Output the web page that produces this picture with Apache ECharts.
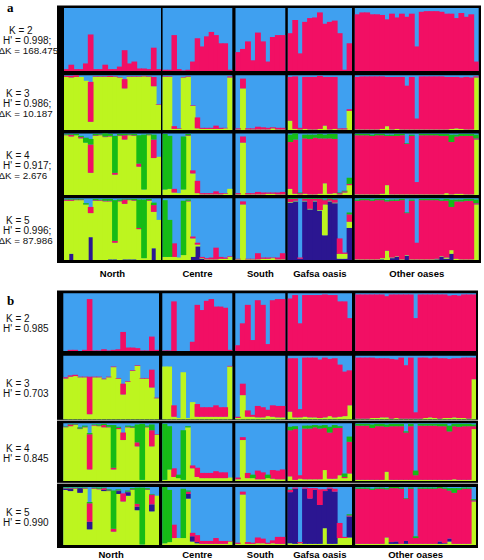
<!DOCTYPE html>
<html><head><meta charset="utf-8">
<script src="https://cdn.jsdelivr.net/npm/echarts@6/dist/echarts.min.js"></script>
<style>html,body{margin:0;padding:0;background:#fff}#c{width:484px;height:560px}</style>
</head><body><div id="c"></div>
<script>
// ---- categories ----
const groups = ['North', 'Centre', 'South', 'Gafsa oasis', 'Other oases'];
const groupSizes = [20, 15, 10, 13, 25];
const panelLetters = ['a', 'b'];
const kLabelsA = [
  ['K = 2', "H' = 0.998;", 'ΔK = 168.475'],
  ['K = 3', "H' = 0.986;", 'ΔK = 10.187'],
  ['K = 4', "H' = 0.917;", 'ΔK = 2.676'],
  ['K = 5', "H' = 0.996;", 'ΔK = 87.986']
];
const kLabelsB = [
  ['K = 2', "H' = 0.985"],
  ['K = 3', "H' = 0.703"],
  ['K = 4', "H' = 0.845"],
  ['K = 5', "H' = 0.990"]
];

// ---- membership proportions (order: North | Centre | South | Gafsa | Other); blue cluster = remainder ----
// panel a
const a_k2_pink = [0.03,0.1,0.03,0.03,0.12,0.58,0.03,0.03,0.1,0.03,0.03,0.07,0.33,0.12,0.15,0.04,0.04,0.03,0.37,0.03,
  0.02,0.02,0.57,0.03,0.01,0.02,0.15,0.52,0.39,0.55,0.62,0.57,0.44,0.44,0.02,
  0.3,0.35,0.47,0.17,0.61,0.47,0.15,0.54,0.57,0.57,
  0.6,0.81,0.28,0.78,0.84,0.85,0.93,0.75,0.78,0.8,0.6,0.02,0.44,
  0.9,0.93,0.93,0.9,0.9,0.89,0.82,0.91,0.85,0.91,0.86,0.91,0.39,0.94,0.95,0.95,0.95,0.94,0.91,0.91,0.84,0.92,0.86,0.9,0.15];
const a_k3_yellow = [0.97,0.96,0.97,0.97,0.9,0.15,0.97,0.97,0.97,0.97,0.97,0.96,0.76,0.97,0.97,0.97,0.98,0.97,0.8,0.46,
  0.97,0.97,0.02,0.02,0.96,0.97,0.44,0.03,0.02,0.02,0.02,0.02,0.02,0.03,0.96,
  0.01,0.76,0.01,0.01,0.01,0.01,0.01,0.03,0.01,0.01,
  0.17,0.02,0.01,0.02,0.01,0.01,0.02,0.08,0.01,0.02,0.01,0.01,0.35,
  0.01,0.01,0.01,0.01,0.01,0.02,0.07,0.01,0.02,0.01,0.01,0.01,0.01,0.01,0.01,0.01,0.01,0.01,0.01,0.02,0.03,0.02,0.01,0.01,0.96];
const a_k3_pink = [0.02,0.03,0.03,0,0,0.73,0.01,0.01,0.01,0.02,0.01,0.01,0.17,0.01,0.01,0.01,0.01,0.01,0.17,0.01,
  0.01,0.01,0.05,0.01,0.01,0.01,0.01,0.2,0.02,0.02,0.02,0.06,0.02,0.01,0.02,
  0.02,0.18,0.02,0.02,0.05,0.04,0.03,0.02,0.03,0.03,
  0.8,0.96,0.03,0.95,0.96,0.96,0.97,0.89,0.96,0.95,0.02,0.02,0.03,
  0.96,0.97,0.97,0.97,0.97,0.96,0.9,0.96,0.95,0.96,0.8,0.96,0.2,0.97,0.97,0.97,0.97,0.97,0.96,0.95,0.94,0.94,0.96,0.95,0.02];
const a_k4_yellow = [0.97,0.95,0.97,0.92,0.85,0.36,0.96,0.97,0.94,0.95,0.33,0.96,0.9,0.97,0.96,0.46,0.09,0.97,0.6,0.62,
  0.09,0.1,0.04,0.03,0.09,0.96,0.35,0.03,0.01,0.01,0.01,0.01,0.01,0.02,0.1,
  0.01,0.85,0.01,0.01,0.01,0.01,0.02,0.02,0.01,0.01,
  0.1,0.02,0.01,0.02,0.01,0.01,0.02,0.19,0.02,0.03,0.01,0.04,0.16,
  0.01,0.01,0.01,0.01,0.01,0.02,0.16,0.01,0.01,0.01,0.01,0.01,0.01,0.01,0.01,0.01,0.01,0.01,0.03,0.01,0.02,0.02,0.01,0.01,0.9];
const a_k4_pink = [0.01,0.03,0,0.02,0,0.46,0.01,0.01,0.01,0.01,0.03,0.01,0.07,0.01,0.01,0.05,0,0.01,0.3,0,
  0,0,0.06,0,0,0.01,0.05,0.2,0.02,0.02,0.02,0.05,0.02,0.01,0,
  0.02,0.1,0.02,0.02,0.04,0.03,0.02,0.02,0.03,0.04,
  0.76,0.88,0.02,0.9,0.9,0.92,0.9,0.73,0.9,0.88,0.02,0.02,0.02,
  0.96,0.96,0.96,0.95,0.96,0.95,0.8,0.95,0.95,0.96,0.82,0.95,0.2,0.96,0.96,0.96,0.96,0.95,0.93,0.85,0.93,0.94,0.95,0.95,0.02];
const a_k4_green = [0.01,0.01,0.02,0.02,0.08,0.09,0.02,0.01,0.05,0.03,0.6,0.02,0.02,0.01,0.02,0.46,0.89,0.01,0.08,0,
  0.9,0.86,0,0,0.86,0.02,0,0,0,0,0,0,0,0,0,
  0,0,0,0,0,0,0,0,0,0,
  0.12,0.1,0.01,0.06,0.07,0.05,0.07,0.06,0.07,0.08,0.01,0.01,0.1,
  0.02,0.02,0.02,0.02,0.02,0.02,0.02,0.02,0.03,0.02,0.01,0.02,0,0.02,0.02,0.02,0.02,0.03,0.03,0.12,0.03,0.03,0.03,0.03,0.06];
const a_k5_navy = [0,0.1,0,0,0,0.37,0,0,0,0.01,0.01,0,0.01,0.01,0.01,0,0,0,0.19,0,
  0,0,0,0,0,0,0.05,0.22,0.02,0,0,0,0,0,0,
  0,0,0,0,0,0,0,0,0,0,
  0.93,0.95,0.02,0.95,0.82,0.95,0.8,0.4,0.95,0.92,0.02,0.02,0.52,
  0,0,0,0,0,0.01,0,0.03,0.05,0,0.07,0,0,0,0,0,0.01,0.05,0.02,0.1,0,0,0,0,0];
const a_k5_yellow = [0.96,0.86,0.97,0.97,0.9,0.39,0.96,0.96,0.95,0.94,0.27,0.95,0.9,0.96,0.95,0.5,0.03,0.96,0.59,0.65,
  0.05,0.05,0.05,0.04,0.08,0.95,0.3,0.03,0.01,0.01,0.01,0.01,0.02,0.02,0.05,
  0.01,0.9,0.01,0.01,0.01,0.02,0.02,0.03,0.01,0.01,
  0.01,0.01,0,0.01,0.01,0.01,0.01,0.5,0.01,0.01,0.08,0.08,0.1,
  0.01,0.01,0.01,0.01,0.01,0.02,0.15,0.01,0.01,0.01,0.01,0.01,0.01,0.01,0.01,0.01,0.01,0.01,0.02,0.06,0.02,0.01,0.01,0.01,0.9];
const a_k5_pink = [0.02,0.02,0.01,0.01,0,0.1,0.01,0.01,0.01,0.01,0.03,0.01,0.07,0.01,0.01,0.02,0,0.01,0.11,0,
  0,0,0.22,0,0,0.01,0.03,0.03,0.02,0.02,0.03,0.19,0.03,0.02,0.01,
  0.01,0.05,0.01,0.01,0.1,0.02,0.02,0.01,0.03,0.1,
  0.05,0.03,0.02,0.03,0.16,0.03,0.18,0.07,0.03,0.05,0.25,0.02,0.12,
  0.95,0.96,0.96,0.95,0.96,0.94,0.8,0.92,0.9,0.96,0.68,0.95,0.27,0.96,0.96,0.96,0.95,0.9,0.92,0.7,0.93,0.94,0.95,0.95,0.02];
const a_k5_green = [0.01,0.01,0.01,0.01,0.02,0,0.02,0.01,0.03,0.03,0.66,0.02,0.01,0.01,0.02,0.46,0.95,0.02,0.04,0,
  0.92,0.6,0,0,0.88,0.02,0,0,0,0,0,0,0,0,0,
  0,0,0,0,0,0,0,0,0,0,
  0.01,0.01,0,0.01,0.01,0.01,0.01,0.01,0.01,0.01,0,0,0.03,
  0.02,0.02,0.02,0.02,0.02,0.02,0.02,0.02,0.02,0.02,0.01,0.02,0,0.02,0.02,0.02,0.02,0.02,0.03,0.12,0.03,0.03,0.03,0.03,0.06];
// panel b
const b_k2_pink = [0,0.02,0.02,0,0.02,0.9,0.01,0.01,0.03,0.01,0.02,0.03,0.33,0.06,0.06,0.05,0.01,0.01,0.25,0.02,
  0.01,0.01,0.86,0,0,0,0.16,0.8,0.71,0.87,0.9,0.77,0.77,0.75,0.02,
  0.1,0.48,0.8,0.19,0.88,0.8,0.12,0.88,0.9,0.9,
  0.91,0.97,0.48,0.97,0.97,0.97,0.97,0.98,0.97,0.97,0.86,0.86,0.57,
  0.98,0.98,0.98,0.98,0.98,0.98,0.95,0.98,0.98,0.98,0.98,0.98,0.57,0.98,0.98,0.98,0.98,0.98,0.98,0.96,0.97,0.96,0.98,0.98,0.98];
const b_k3_yellow = [0.64,0.67,0.68,0.66,0.66,0.08,0.66,0.66,0.63,0.66,0.82,0.64,0.39,0.59,0.76,0.84,0.64,0.64,0.5,0.33,
  0.83,0.83,0.04,0.02,0.74,0.02,0.27,0.04,0.04,0.04,0.04,0.04,0.04,0.04,0.83,
  0.02,0.38,0.04,0.04,0.03,0.03,0.05,0.04,0.03,0.03,
  0.12,0.03,0.03,0.04,0.03,0.03,0.02,0.03,0.05,0.03,0.04,0.05,0.22,
  0.01,0.01,0.01,0.02,0.02,0.03,0.03,0.01,0.02,0.01,0.01,0.01,0.01,0.01,0.02,0.03,0.02,0.01,0.02,0.02,0.03,0.02,0.02,0.01,0.63];
const b_k3_pink = [0.02,0.02,0.02,0.01,0.01,0.59,0.01,0.01,0.01,0.01,0.01,0.01,0.17,0.01,0.01,0.01,0.01,0.01,0.28,0.01,
  0,0,0.18,0,0,0,0,0.2,0.15,0.15,0.15,0.18,0.15,0.15,0.01,
  0.02,0.18,0.1,0.03,0.18,0.16,0.1,0.18,0.18,0.18,
  0.84,0.93,0.13,0.93,0.94,0.94,0.92,0.94,0.9,0.93,0.82,0.7,0.55,
  0.96,0.96,0.96,0.95,0.94,0.93,0.93,0.94,0.92,0.96,0.84,0.96,0.1,0.96,0.95,0.93,0.95,0.95,0.94,0.93,0.93,0.94,0.95,0.96,0.34];
const b_k4_yellow = [0.93,0.95,0.97,0.9,0.93,0.2,0.96,0.95,0.93,0.93,0.2,0.9,0.71,0.93,0.92,0.6,0.02,0.93,0.6,0.8,
  0.02,0.2,0.07,0.05,0.02,0.93,0.22,0.07,0.05,0.05,0.05,0.05,0.05,0.05,0.06,
  0.03,0.71,0.05,0.05,0.03,0.03,0.05,0.04,0.03,0.03,
  0.08,0.02,0.04,0.03,0.03,0.03,0.03,0.19,0.04,0.04,0.1,0.05,0.13,
  0.02,0.02,0.02,0.02,0.02,0.02,0.16,0.02,0.02,0.02,0.02,0.02,0.02,0.02,0.02,0.02,0.02,0.02,0.02,0.02,0.03,0.02,0.02,0.02,0.9];
const b_k4_pink = [0.01,0.03,0.01,0.01,0.01,0.61,0.01,0.01,0.04,0.01,0.03,0.02,0.13,0.01,0.01,0.07,0,0.01,0.28,0.01,
  0,0,0.15,0,0,0,0.05,0.16,0.09,0.09,0.09,0.12,0.1,0.1,0,
  0.03,0.05,0.09,0,0.15,0.12,0,0.15,0.15,0.17,
  0.8,0.88,0.06,0.88,0.88,0.9,0.88,0.73,0.8,0.88,0.82,0.02,0.55,
  0.94,0.94,0.94,0.9,0.93,0.93,0.78,0.93,0.93,0.93,0.82,0.93,0.08,0.94,0.94,0.94,0.94,0.93,0.93,0.84,0.92,0.92,0.93,0.93,0.05];
const b_k4_green = [0.01,0.01,0.01,0.02,0.02,0.02,0.01,0.02,0.02,0.03,0.74,0.02,0,0.02,0.02,0.31,0.97,0.02,0.1,0,
  0.97,0.75,0,0.06,0.86,0.02,0,0,0,0,0,0,0,0,0,
  0,0,0,0.06,0,0,0.06,0,0,0,
  0.06,0.05,0,0.05,0.05,0.04,0.05,0.05,0.1,0.05,0.03,0.06,0.09,
  0.03,0.03,0.03,0.06,0.04,0.04,0.04,0.04,0.04,0.04,0.02,0.04,0.08,0.03,0.03,0.03,0.03,0.04,0.04,0.1,0.04,0.05,0.04,0.04,0.03];
const b_k5_yellow = [0.95,0.93,0.97,0.9,0.97,0.27,0.97,0.96,0.93,0.93,0.23,0.88,0.75,0.85,0.95,0.6,0.01,0.95,0.58,0.85,
  0.03,0.05,0.12,0.12,0.12,0.8,0.06,0.03,0.02,0.02,0.02,0.02,0.02,0.02,0.06,
  0.02,0.87,0.02,0.02,0.03,0.03,0.02,0.03,0.02,0.02,
  0.03,0.02,0.03,0.02,0.02,0.02,0.02,0.29,0.02,0.02,0.12,0.12,0.13,
  0.02,0.02,0.02,0.02,0.02,0.02,0.13,0.02,0.02,0.02,0.02,0.02,0.02,0.02,0.02,0.02,0.02,0.02,0.02,0.06,0.02,0.02,0.02,0.02,0.75];
const b_k5_navy = [0.02,0.04,0,0.08,0,0.13,0,0,0.02,0,0,0.05,0,0.06,0,0.06,0,0,0.12,0,
  0,0,0,0,0,0.08,0.09,0.02,0,0,0,0,0,0,0,
  0,0,0,0,0,0,0,0,0,0,
  0.88,0.95,0,0.95,0.78,0.93,0.67,0.64,0.95,0.9,0,0,0.36,
  0,0,0,0,0,0,0,0.03,0.04,0,0.05,0,0,0,0,0,0,0.04,0.01,0.05,0,0,0,0,0];
const b_k5_pink = [0.01,0.01,0.01,0,0.01,0.32,0.01,0.01,0.03,0.01,0.05,0.01,0.14,0.01,0.01,0.05,0,0.01,0.17,0,
  0,0,0.23,0,0,0.04,0.06,0.12,0.05,0.05,0.05,0.1,0.05,0.05,0.01,
  0.02,0.05,0.03,0.02,0.1,0.08,0.02,0.05,0.12,0.12,
  0.04,0.02,0.02,0.02,0.18,0.03,0.27,0.03,0.02,0.05,0.26,0.02,0.02,
  0.95,0.95,0.95,0.93,0.95,0.95,0.83,0.93,0.92,0.95,0.73,0.95,0.1,0.95,0.95,0.95,0.95,0.92,0.94,0.83,0.88,0.93,0.95,0.95,0.02];
const b_k5_green = [0.01,0.01,0.01,0.01,0.01,0.02,0.01,0.02,0.01,0.02,0.66,0.02,0,0.02,0.02,0.28,0.98,0.02,0.01,0,
  0.97,0.9,0,0,0.85,0.02,0,0,0,0,0,0,0,0,0,
  0,0,0,0,0,0,0,0,0,0,
  0.01,0,0,0,0,0,0,0,0,0,0,0,0.02,
  0.02,0.02,0.02,0.02,0.02,0.02,0.02,0.02,0.02,0.02,0.01,0.02,0.03,0.02,0.02,0.02,0.02,0.02,0.02,0.04,0.08,0.03,0.02,0.02,0.02];

// ---- styling / layout ----
const COL = { blue: '#3fa0f0', pink: '#f20f64', yellow: '#bdf51f', green: '#16bb16', navy: '#2b1691' };
const FONT = "'Liberation Sans', Arial, Helvetica, sans-serif";

const panels = [
  {
    frame: [57, 5.5, 481, 263],
    cols: [[64, 161], [162.6, 232.3], [235.5, 285.3], [287.8, 352], [354.8, 478.7]],
    rows: [[8, 71], [75.3, 130], [133.4, 195], [198.3, 260]],
    letterY: 7.5, groupLabelY: 273, kx: [9, 6, 6, 6], labels: kLabelsA, seps: [],
    series: [
      [['pink', a_k2_pink]],
      [['yellow', a_k3_yellow], ['pink', a_k3_pink]],
      [['yellow', a_k4_yellow], ['pink', a_k4_pink], ['green', a_k4_green]],
      [['navy', a_k5_navy], ['yellow', a_k5_yellow], ['pink', a_k5_pink], ['green', a_k5_green]]
    ]
  },
  {
    frame: [57, 290.5, 478, 548],
    cols: [[63.3, 159], [162.3, 232.3], [235.3, 285.3], [287.7, 352], [355.3, 476]],
    rows: [[293.3, 351], [355.7, 419.3], [423.3, 481], [487, 545]],
    letterY: 300, groupLabelY: 554, kx: [6, 6, 6, 6], labels: kLabelsB, seps: [420.4, 483.4],
    series: [
      [['pink', b_k2_pink]],
      [['yellow', b_k3_yellow], ['pink', b_k3_pink]],
      [['yellow', b_k4_yellow], ['pink', b_k4_pink], ['green', b_k4_green]],
      [['yellow', b_k5_yellow], ['navy', b_k5_navy], ['pink', b_k5_pink], ['green', b_k5_green]]
    ]
  }
];

const ids = [];
groups.forEach((g, i) => { for (let k = 1; k <= groupSizes[i]; k++) ids.push(g + ' ' + k); });

const option = { animation: false, backgroundColor: '#ffffff', grid: [], xAxis: [], yAxis: [], series: [], graphic: [] };

panels.forEach((p, pi) => {
  const f = p.frame;
  option.graphic.push({ type: 'rect', silent: true, z: -100,
    shape: { x: f[0], y: f[1], width: f[2] - f[0], height: f[3] - f[1] }, style: { fill: '#000' } });
  p.seps.forEach(y => option.graphic.push({ type: 'rect', silent: true, z: -90,
    shape: { x: f[0], y: y - 0.7, width: f[2] - f[0], height: 1.4 }, style: { fill: '#9a9a9a' } }));
  option.graphic.push({ type: 'text', silent: true, x: 7, y: p.letterY,
    style: { text: panelLetters[pi], font: "bold 13px 'Liberation Serif', 'DejaVu Serif', serif", fill: '#000', textVerticalAlign: 'middle' } });
  groups.forEach((g, gi) => {
    const c = p.cols[gi];
    option.graphic.push({ type: 'text', silent: true, x: (c[0] + c[1]) / 2, y: p.groupLabelY,
      style: { text: g, font: 'bold 9.5px ' + FONT, fill: '#000', textAlign: 'center', textVerticalAlign: 'middle' } });
  });
  p.rows.forEach((r, ri) => {
    const lines = p.labels[ri];
    const mid = (r[0] + r[1]) / 2 + 1;
    lines.forEach((t, j) => {
      const xs = [p.kx[ri], 3, -1.5];
      option.graphic.push({ type: 'text', silent: true, x: xs[j], y: mid + (j - (lines.length - 1) / 2) * 10,
        style: { text: t, font: (j === 2 ? '9.8px ' : '10px ') + FONT, fill: '#111', textVerticalAlign: 'middle' } });
    });
    let start = 0;
    groupSizes.forEach((n, gi) => {
      const c = p.cols[gi];
      const gIdx = option.grid.length;
      option.grid.push({ left: c[0], top: r[0], width: c[1] - c[0], height: r[1] - r[0],
        show: true, backgroundColor: COL.blue, borderWidth: 0 });
      option.xAxis.push({ type: 'category', gridIndex: gIdx, data: ids.slice(start, start + n), show: false, boundaryGap: true });
      option.yAxis.push({ type: 'value', gridIndex: gIdx, min: 0, max: 1, show: false });
      p.series[ri].forEach(([cname, arr]) => {
        option.series.push({
          type: 'bar', xAxisIndex: gIdx, yAxisIndex: gIdx, stack: 'st' + gIdx, barWidth: '118%',
          silent: true, emphasis: { disabled: true }, clip: true,
          itemStyle: { color: COL[cname], borderWidth: 0 },
          data: arr.slice(start, start + n).map(v => (v > 0 ? v : '-'))
        });
      });
      start += n;
    });
  });
});

const chart = echarts.init(document.getElementById('c'), null, { renderer: 'svg', width: 484, height: 560 });
chart.setOption(option);
</script>
</body></html>
